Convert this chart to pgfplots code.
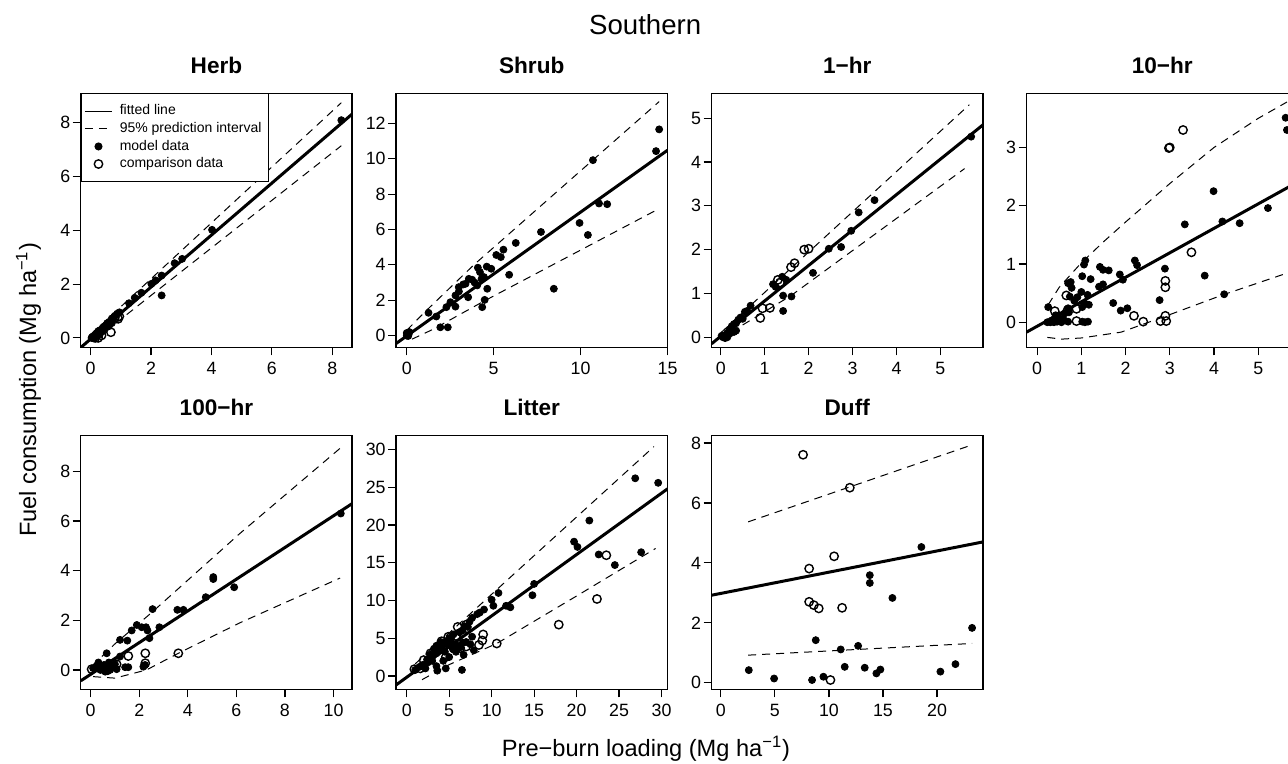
\documentclass[border=0pt]{standalone}
\usepackage{fontspec}
\setmainfont{Liberation Sans}
\usepackage{pgfplots}
\pgfplotsset{compat=1.18}

\pgfplotsset{
  panel/.style={
    scale only axis, width=135.75pt, height=127pt, anchor=south west,
    axis line style={line width=0.75pt},
    tick align=outside, xtick pos=left, ytick pos=left,
    major tick length=4pt, tick style={line width=0.6pt, black},
    ticklabel style={font=\fontsize{8.9}{10}\selectfont},
    yticklabel style={inner xsep=1pt},
    /pgf/number format/assume math mode=true,
    every axis title/.style={font=\bfseries\fontsize{11.3}{13}\selectfont, at={(0.5,1)}, anchor=base, yshift=9.7pt},
  },
  fit/.style={black, line width=1.5pt},
  pint/.style={black, line width=0.5pt, dash pattern=on 4pt off 3pt},
  md/.style={only marks, mark=*, mark size=1.75pt, black},
  cd/.style={only marks, mark=o, mark size=2.1pt, black, mark options={line width=0.7pt}},
  legfit/.style={legend image code/.code={\draw[black,line width=0.6pt] (0pt,0pt)--(13.7pt,0pt);}},
  legpint/.style={legend image code/.code={\draw[black,line width=0.5pt,dash pattern=on 4pt off 3pt] (0pt,0pt)--(13.7pt,0pt);}},
  legmark/.style={legend image code/.code={\draw[mark repeat=2,mark phase=2,##1] plot coordinates {(0pt,0pt)(6.85pt,0pt)(13.7pt,0pt)};}},
}

\begin{document}
\begin{tikzpicture}

% Herb (with legend)
\begin{axis}[panel, at={(40.35pt,208.35pt)}, title={Herb},
  xmin=-0.33, xmax=8.66, ymin=-0.35, ymax=9.1,
  xtick={0,2,4,6,8}, ytick={0,2,4,6,8},
  legend style={at={(0,1)}, anchor=north west, draw=black, line width=0.5pt,
    font=\fontsize{7}{8.7}\selectfont, legend cell align=left,
    inner xsep=1.5pt, inner ysep=3.5pt, row sep=-1.8pt, column sep=1.5pt},
]
\addplot[fit, legfit] coordinates {(-0.33,-0.36)(8.66,8.33)};
\addlegendentry{fitted line}
\addplot[pint, legpint] coordinates {(0,0.12)(8.3,8.75)};
\addlegendentry{95\% prediction interval}
\addplot[pint, forget plot] coordinates {(0.1,-0.1)(8.3,7.15)};
\addplot[md, legmark]
  coordinates {(8.3,8.1)(4.02,4.02)(3.03,2.94)(2.78,2.78)(2.35,2.32)(2.35,1.58)(2.15,2.14)(2.01,2.01)
  (1.68,1.68)(1.46,1.49)(1.27,1.29)(0.95,0.95)(0.88,0.9)(0.8,0.82)(0.75,0.7)(0.7,0.72)(0.62,0.6)
  (0.55,0.55)(0.5,0.45)(0.45,0.42)(0.4,0.38)(0.35,0.3)(0.3,0.28)(0.28,0.2)(0.25,0.25)(0.2,0.18)
  (0.18,0.1)(0.15,0.12)(0.12,0.08)(0.1,0.05)(0.08,0.02)(0.05,0.03)(0.03,0.0)(0.2,0.05)(0.3,0.12)
  (0.4,0.25)(0.6,0.45)(0.7,0.55)};
\addlegendentry{model data}
\addplot[cd, legmark]
  coordinates {(0.67,0.21)(0.91,0.71)(0.95,0.8)(0.25,0.0)(0.09,0.02)(0.36,0.09)(0.58,0.46)(0.8,0.75)(0.15,0.0)};
\addlegendentry{comparison data}
\end{axis}

% Shrub
\begin{axis}[panel, at={(198pt,208.35pt)}, title={Shrub},
  xmin=-0.62, xmax=15.0, ymin=-0.66, ymax=13.7,
  xtick={0,5,10,15}, ytick={0,2,4,6,8,10,12}]
\addplot[fit] coordinates {(-0.62,-0.45)(15,10.48)};
\addplot[pint] coordinates {(0,0.3)(1,1.3)(3.86,4.0)(10.71,9.93)(14.52,13.23)};
\addplot[pint] coordinates {(0.3,-0.2)(1.5,0.35)(4.44,1.95)(14.52,7.18)};
\addplot[md] coordinates {(14.52,11.66)(14.34,10.43)(10.71,9.92)(11.06,7.47)(11.53,7.43)(9.94,6.37)
  (10.42,5.69)(7.72,5.86)(8.46,2.65)(6.27,5.24)(5.56,4.86)(5.41,4.44)(5.15,4.56)(5.89,3.44)(4.86,3.78)
  (4.63,2.65)(4.48,2.02)(4.34,1.61)(4.09,3.84)(4.21,3.59)(4.44,3.31)(4.05,2.84)(3.76,3.16)(3.57,3.21)
  (3.53,2.17)(3.38,2.93)(3.24,2.89)(2.99,2.74)(2.80,2.27)(2.80,1.64)(2.51,1.89)(2.28,1.61)(2.36,0.47)
  (1.93,0.47)(1.25,1.29)(1.70,1.08)(0,0)(0.05,0.1)(0.1,0.05)(0.15,0.2)(0.0,0.15)(0.08,-0.02)
  (3.9,3.0)(4.3,3.2)(3.0,2.5)(4.6,3.9)};
\end{axis}

% 1-hr
\begin{axis}[panel, at={(355.75pt,208.35pt)}, title={1−hr},
  xmin=-0.21, xmax=5.97, ymin=-0.23, ymax=5.57,
  xtick={0,1,2,3,4,5}, ytick={0,1,2,3,4,5}]
\addplot[fit] coordinates {(-0.21,-0.15)(5.97,4.85)};
\addplot[pint] coordinates {(0,0.1)(1.3,1.3)(5.66,5.31)};
\addplot[pint] coordinates {(0.5,0.28)(1.6,0.95)(5.55,3.85)};
\addplot[md] coordinates {(5.7,4.58)(3.5,3.13)(3.14,2.85)(2.97,2.43)(2.74,2.06)(2.46,2.02)(2.1,1.47)
  (1.61,0.93)(1.42,0.95)(1.42,0.6)(1.49,1.31)(1.19,1.21)(1.25,1.15)(1.4,1.38)(0.68,0.72)(0.6,0.6)
  (0.55,0.58)(0.45,0.45)(0.5,0.42)(0.4,0.4)(0.35,0.32)(0.3,0.3)(0.25,0.25)(0.3,0.12)(0.35,0.15)
  (0.2,0.18)(0.15,0.1)(0.1,0.05)(0.05,0.0)(0.1,-0.02)(0.02,0.03)(0.2,0.08)(0.25,0.12)(0.15,0.0)};
\addplot[cd] coordinates {(1.9,2.0)(2.0,2.02)(1.68,1.69)(1.6,1.6)(1.3,1.31)(1.35,1.25)(1.12,0.67)(0.9,0.44)(0.95,0.66)};
\end{axis}

% 10-hr
\begin{axis}[panel, at={(513.25pt,208.35pt)}, title={10−hr},
  xmin=-0.24, xmax=5.9, ymin=-0.43, ymax=3.93,
  xtick={0,1,2,3,4,5}, ytick={0,1,2,3}]
\addplot[fit] coordinates {(-0.24,-0.17)(5.9,2.41)};
\addplot[pint] coordinates {(0.25,0.3)(0.5,0.6)(1,1.02)(1.5,1.38)(2,1.72)(3,2.38)(4,3.0)(5,3.5)(5.65,3.78)};
\addplot[pint] coordinates {(0.23,-0.26)(0.55,-0.29)(1.0,-0.27)(1.9,-0.17)(2.89,0.1)(4.2,0.47)(5.64,0.84)};
\addplot[md] coordinates {(5.62,3.51)(5.65,3.30)(3.99,2.25)(5.22,1.96)(4.19,1.73)(4.58,1.70)(3.34,1.68)
  (3.79,0.80)(4.23,0.48)(2.89,0.92)(2.77,0.38)(2.21,1.06)(2.26,0.98)(1.87,0.82)(1.94,0.73)(1.72,0.33)
  (1.89,0.20)(2.04,0.24)(1.42,0.95)(1.49,0.90)(1.62,0.89)(1.49,0.65)(1.40,0.61)(1.21,0.74)(1.09,1.06)
  (1.06,0.99)(1.02,0.79)(1.00,0.52)(1.14,0.47)(1.17,0.30)(0.91,0.43)(0.70,0.67)(0.76,0.69)(0.78,0.59)
  (0.74,0.44)(0.84,0.37)(0.70,0.24)(0.72,0.17)(0.25,0.26)(1.08,0.32)(1.02,0.26)(0.70,0.01)(1.02,0.01)
  (1.15,0.01)(1.08,0.0)(0.23,0.0)(0.3,0.0)(0.38,0.0)(0.45,0.01)(0.5,0.05)(0.48,0.09)(0.4,0.07)
  (0.33,0.03)(0.59,0.06)(0.55,0.0)(0.42,0.12)(0.62,0.15)};
\addplot[cd] coordinates {(3.30,3.30)(2.98,2.99)(3.0,3.0)(3.49,1.20)(2.90,0.71)(2.90,0.60)(2.90,0.11)
  (2.79,0.02)(2.92,0.02)(2.19,0.11)(2.40,0.01)(0.66,0.46)(0.89,0.23)(0.89,0.02)(0.40,0.19)(0.69,0.21)(0.5,0.1)};
\end{axis}

% 100-hr
\begin{axis}[panel, at={(40.35pt,37.35pt)}, title={100−hr},
  xmin=-0.41, xmax=10.77, ymin=-0.78, ymax=9.45,
  xtick={0,2,4,6,8,10}, ytick={0,2,4,6,8}]
\addplot[fit] coordinates {(-0.41,-0.44)(10.77,6.70)};
\addplot[pint] coordinates {(0.05,0.15)(1,1.05)(2.5,2.3)(6.15,5.5)(10.3,8.95)};
\addplot[pint] coordinates {(0.1,-0.27)(1.0,-0.33)(2.3,0.0)(3.61,0.67)(6.15,1.9)(10.27,3.7)};
\addplot[md] coordinates {(10.3,6.3)(5.91,3.33)(5.05,3.74)(5.05,3.66)(4.74,2.93)(3.82,2.42)(3.57,2.42)
  (2.55,2.45)(2.83,1.72)(2.42,1.28)(2.34,1.59)(2.28,1.72)(2.1,1.72)(1.9,1.81)(1.69,1.59)(1.21,1.21)
  (1.51,1.18)(1.21,0.54)(1.0,0.23)(1.55,0.11)(1.42,0.11)(1.07,0.03)(0.66,0.67)(0.32,0.3)(0.1,0.07)
  (0.25,0.16)(0.4,0.0)(0.5,0.03)(0.65,0.14)(0.7,-0.05)(0.6,-0.07)(0.8,0.0)(0.45,0.1)(0.55,0.2)
  (2.17,0.13)(2.24,0.2)(0.9,0.1)(0.75,0.3)};
\addplot[cd] coordinates {(3.61,0.67)(2.25,0.67)(2.25,0.27)(1.55,0.56)(1.07,0.23)(0.04,0.03)(0.66,0.13)(0.45,0.07)};
\end{axis}

% Litter
\begin{axis}[panel, at={(198pt,37.35pt)}, title={Litter},
  xmin=-1.26, xmax=30.7, ymin=-1.77, ymax=31.9,
  xtick={0,5,10,15,20,25,30}, ytick={0,5,10,15,20,25,30}]
\addplot[fit] coordinates {(-1.26,-1.2)(30.7,24.8)};
\addplot[pint] coordinates {(1,1.6)(29.1,30.4)};
\addplot[pint] coordinates {(1.8,-0.5)(5,1.5)(10.6,4.3)(20,10.6)(29.3,16.9)};
\addplot[md] coordinates {(29.6,25.6)(26.9,26.2)(27.6,16.4)(24.5,14.7)(22.6,16.1)(21.5,20.6)(19.7,17.8)
  (20.1,17.1)(15.0,12.2)(14.8,10.7)(12.2,9.1)(11.7,9.3)(10.8,11.0)(10.0,10.1)(10.2,9.3)(9.1,8.8)
  (8.6,8.4)(8.3,8.2)(7.7,7.7)(6.5,0.8)(4.6,1.0)(3.5,1.3)(3.6,0.7)(7.9,3.4)(6.7,2.8)(7.7,5.2)(1,0.8)
  (1.5,1.2)(2,1.5)(2.2,1.0)(2.5,1.8)(3,2.0)(3,2.5)(3.5,3.0)(3.8,3.5)(4,3.8)(4.2,4.0)(4.5,4.5)(4.8,4.2)
  (5,5.0)(5.2,4.6)(5.5,3.5)(5.5,5.5)(6,4.0)(6.2,5.8)(6.5,6.0)(6.8,6.6)(7,4.5)(7.2,6.5)(7.5,4.2)
  (3.2,3.6)(4,4.5)(4.5,3.2)(5,2.5)(5.8,3.2)(6.3,3.8)(2.8,2.8)(3.5,4.0)(1.8,1.4)(2.4,2.2)(4.3,2.0)
  (3.9,4.2)(5.3,3.9)(6.6,4.4)(7.4,7.2)};
\addplot[cd] coordinates {(23.5,16.0)(22.4,10.2)(17.9,6.8)(10.6,4.3)(9.0,5.5)(8.9,4.7)(8.5,4.1)(7.0,6.8)
  (6.5,5.8)(7.0,3.9)(6.3,3.7)(5.5,3.7)(5.1,4.9)(4.9,5.2)(4.6,2.5)(3.9,3.9)(3.5,3.4)(2.8,3.0)(2.0,2.1)
  (0.9,0.9)(1.6,1.0)(4.1,4.6)(6.0,6.5)(5.8,5.3)};
\end{axis}

% Duff
\begin{axis}[panel, at={(355.75pt,37.35pt)}, title={Duff},
  xmin=-0.86, xmax=24.25, ymin=-0.22, ymax=8.26,
  xtick={0,5,10,15,20}, ytick={0,2,4,6,8}]
\addplot[fit] coordinates {(-0.86,2.92)(24.25,4.70)};
\addplot[pint] coordinates {(2.53,5.37)(23.24,7.94)};
\addplot[pint] coordinates {(2.53,0.92)(23.24,1.31)};
\addplot[md] coordinates {(2.59,0.42)(4.93,0.14)(8.44,0.09)(8.78,1.42)(9.49,0.20)(11.09,1.11)(11.46,0.53)
  (12.70,1.23)(13.31,0.50)(13.78,3.59)(13.78,3.33)(14.39,0.31)(14.76,0.44)(15.87,2.83)(18.55,4.53)
  (20.31,0.37)(21.70,0.62)(23.24,1.83)};
\addplot[cd] coordinates {(7.61,7.61)(11.93,6.51)(10.48,4.22)(8.17,3.81)(8.17,2.70)(8.60,2.59)(9.06,2.48)
  (11.22,2.50)(10.14,0.09)};
\end{axis}

\node[anchor=base, font=\fontsize{13.8}{16}\selectfont] at (322.6pt,364.5pt) {Southern};
\node[anchor=base, font=\fontsize{11.8}{14}\selectfont] at (323pt,3.65pt) {Pre−burn loading (Mg ha\textsuperscript{−1})};
\node[anchor=base, rotate=90, font=\fontsize{11.8}{14}\selectfont] at (18pt,187pt) {Fuel consumption (Mg ha\textsuperscript{−1})};

\pgfresetboundingbox
\useasboundingbox (0,0) rectangle (644pt,382pt);
\end{tikzpicture}
\end{document}
